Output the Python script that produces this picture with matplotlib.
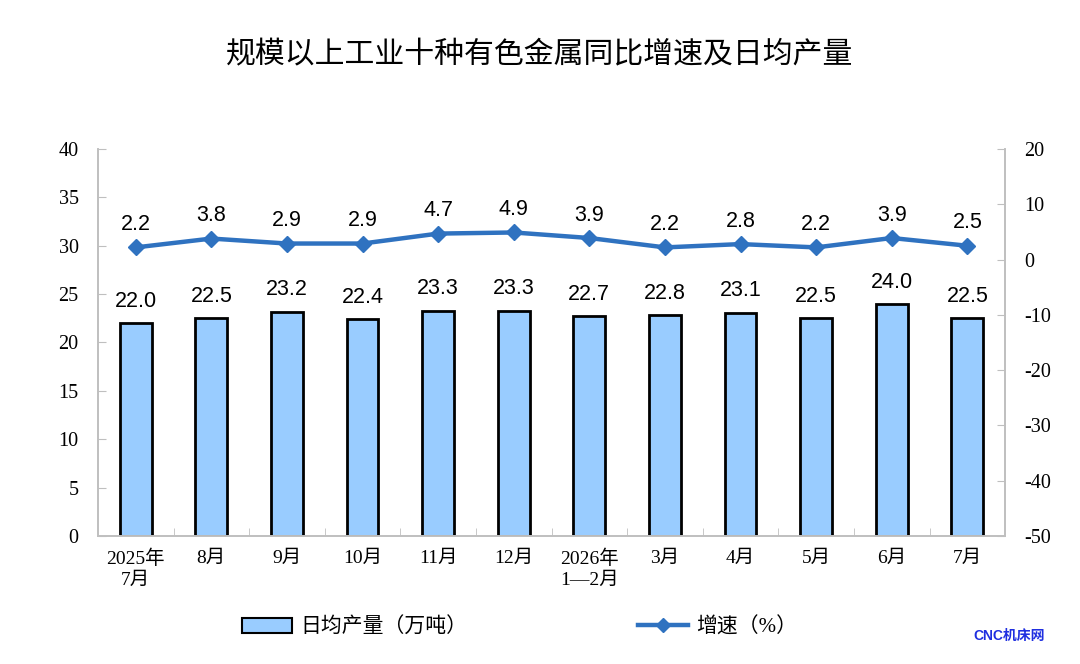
import matplotlib
matplotlib.use("Agg")
import matplotlib.pyplot as plt
from matplotlib.patches import Patch
from matplotlib.lines import Line2D

plt.rcParams["font.family"] = ["Liberation Serif", "Noto Sans CJK SC", "DejaVu Sans"]
plt.rcParams["axes.unicode_minus"] = False

months = ["2025年\n7月", "8月", "9月", "10月", "11月", "12月", "2026年\n1—2月",
          "3月", "4月", "5月", "6月", "7月"]
daily_output = [22.0, 22.5, 23.2, 22.4, 23.3, 23.3, 22.7, 22.8, 23.1, 22.5, 24.0, 22.5]
growth = [2.2, 3.8, 2.9, 2.9, 4.7, 4.9, 3.9, 2.2, 2.8, 2.2, 3.9, 2.5]

BAR_COLOR = "#99CCFF"
LINE_COLOR = "#2F72C0"
SPINE = "#BFBFBF"

fig = plt.figure(figsize=(10.8, 6.64), dpi=100)
ax = fig.add_axes([0.0907, 0.1928, 0.84, 0.5828])
ax2 = ax.twinx()

x = list(range(len(months)))
ax.bar(x, daily_output, width=0.42, color=BAR_COLOR, edgecolor="black", linewidth=2, zorder=2)
for xi, v in zip(x, daily_output):
    ax.annotate(f"{v:.1f}", (xi, v), xytext=(0, 8), textcoords="offset points",
                ha="center", va="bottom", fontsize=15.5, family="Liberation Sans")

ax2.plot(x, growth, color=LINE_COLOR, linewidth=3.2, marker="D", markersize=8, zorder=3)
for xi, v in zip(x, growth):
    ax2.annotate(f"{v:.1f}", (xi, v), xytext=(0, 9), textcoords="offset points",
                 ha="center", va="bottom", fontsize=15.5, family="Liberation Sans")

ax.set_xlim(-0.5, len(months) - 0.5)
ax.set_ylim(0, 40)
ax.set_yticks(range(0, 41, 5))
ax2.set_ylim(-50, 20)
ax2.set_yticks(range(-50, 21, 10))

ax.set_xticks(x)
ax.set_xticklabels(months, fontsize=14, linespacing=1.3)
ax.set_xticks([i - 0.5 for i in range(1, len(months))], minor=True)
ax.tick_params(axis="x", which="major", length=0, pad=10)
ax.tick_params(axis="x", which="minor", direction="in", length=6, color=SPINE)
ax.tick_params(axis="y", direction="in", length=6, color=SPINE, labelsize=14.5, pad=14)
ax2.tick_params(axis="y", direction="in", length=6, color=SPINE, labelsize=14.5, pad=14)

for a in (ax, ax2):
    a.spines["top"].set_visible(False)
    for s in ("left", "right", "bottom"):
        a.spines[s].set_color(SPINE)
        a.spines[s].set_linewidth(1.2)

fig.text(0.5, 0.917, "规模以上工业十种有色金属同比增速及日均产量", ha="center", va="center",
         fontsize=21.5, family="Noto Sans CJK SC", weight="medium")

handles = [Patch(facecolor=BAR_COLOR, edgecolor="black", linewidth=1.5),
           Line2D([], [], color=LINE_COLOR, linewidth=3.2, marker="D", markersize=7)]
fig.legend(handles, ["日均产量（万吨）", "增速（%）"], loc="center",
           bbox_to_anchor=(0.481, 0.055), ncol=2, frameon=False, fontsize=15,
           handlelength=2.4, columnspacing=8.2, handletextpad=0.4)

fig.text(0.934, 0.042, "CNC机床网", ha="center", va="center", fontsize=10,
         color="#1F2FE0", weight="bold", family=["Liberation Sans", "Noto Sans CJK SC"])

fig.savefig("out.png", dpi=100)
